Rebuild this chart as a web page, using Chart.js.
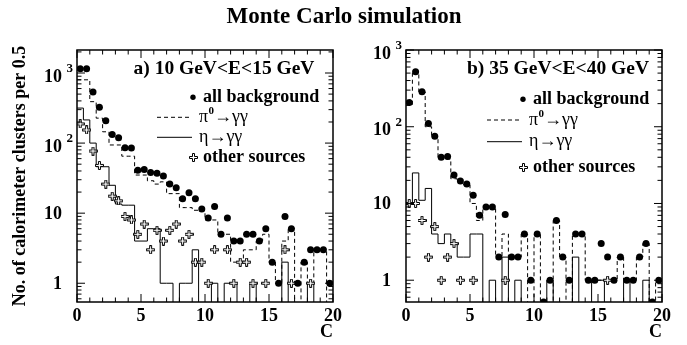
<!DOCTYPE html>
<html>
<head>
<meta charset="utf-8">
<title>Monte Carlo simulation</title>
<script src="https://cdn.jsdelivr.net/npm/chart.js@4.4.0/dist/chart.umd.min.js"></script>
<style>
  html, body { margin: 0; padding: 0; background: #fff; }
  #wrap { position: relative; width: 687px; height: 345px; }
  #wrap canvas { position: absolute; left: 0; top: 0; }
</style>
</head>
<body>
<div id="wrap">
  <canvas id="chartA" width="687" height="345"></canvas>
  <canvas id="chartB" width="687" height="345"></canvas>
</div>
<script>
// Bins: 40 bins of width 0.5 in C, from 0 to 20
const BIN_WIDTH = 0.5;

// a) 10 GeV<E<15 GeV
const allBgA = [1150, 1150, 537, 325, 209, 133, 119, 86, 85, 41,
                42, 38, 37, 34, 26, 23, 16, 19.5, 16, 11.5,
                8.5, 12.4, 5, 8.5, 4, 4, 5, 5, 4, 6,
                2, 1, 9, 6, 1, 2, 3, 3, 3, 1];
const pi0A = [800, 800, 390, 227, 145, 94, 94, 65, 65, 35,
              35, 29, 26, 28, 19, 19, 12, 12, 11, 11,
              8, 8, 5, 5, 2, 2, 3, 3, 4, 5,
              2, 1, 4, 6, 0, 2, 1, 3, 3, 0];
const etaA = [316, 214, 100, 46, 46, 25, 13.5, 13, 13, 4,
              4, 6, 6, 1, 1, 0, 1, 1, 3, 0,
              0, 1, 0, 1, 1, 0, 0, 1, 0, 0,
              0, 0, 2, 0, 0, 0, 1, 0, 0, 0];
const otherA = [188, 154, 77, 48, 26, 17.5, 15, 9, 8, 5,
                7, 3, 5.7, 4, 5.7, 7, 4, 5, 2, 2,
                1, 3, null, 3, 1, 2, 2, 1, null, 1,
                null, null, 3, 1, null, null, 1, null, null, null];

// b) 35 GeV<E<40 GeV
const allBgB = [207, 520, 285, 110, 75, 40, 41, 23.5, 19.6, 17.9,
                12.8, 7, 9, 9, 2, 7.2, 2, 2, 4, 1,
                4, 0, 1, 6, 2, 1, 4, 4, 1, 1,
                3, 2, 1, 2, 1, 1, 2, 3, 0, 1];
const pi0B = [190, 520, 285, 100, 74, 38, 38, 21, 19, 17.5,
              10, 6, 9, 9, 2, 4, 2, 2, 4, 0,
              4, 0, 0, 6, 2, 0, 4, 4, 1, 1,
              1, 1, 1, 2, 1, 1, 2, 3, 0, 1];
const etaB = [10, 25, 11, 15.7, 4, 3, 4, 3, 2, 2,
              4, 4, 0, 1, 0, 2, 0, 1, 0, 0,
              0, 0, 1, 0, 0, 0, 2, 0, 0, 1,
              1, 0, 0, 0, 1, 0, 0, 1, 0, 0];
const otherB = [10, 10, 6, 2, 5, 1, 2, 3, 1, null,
                1, null, null, null, null, 1, null, null, null, null,
                null, null, null, null, null, null, null, null, null, null,
                null, 1, null, null, null, null, null, null, null, null];

// Axis ticks
const xTickValues = [0, 5, 10, 15, 20];
const xTickLabels = ['0', '5', '10', '15', '20'];
const yDecades = [1, 10, 100, 1000];
const yDecadeLabels = [['1', ''], ['10', ''], ['10', '2'], ['10', '3']];

const FONT = '"Liberation Serif", "Times New Roman", serif';

// Panel settings
const panels = [
    {
        canvasId: 'chartA',
        area: { left: 77, right: 333, top: 50, bottom: 302 },
        yMin: 0.54, yMax: 2130,
        allBg: allBgA, pi0: pi0A, eta: etaA, other: otherA,
        header: 'a) 10 GeV<E<15 GeV', headerX: 224, headerY: 69,
        rows: [97.3, 117.3, 137.3, 157.3],
        markX: 193, lineX: [157, 192], textX: 203, greekX: 199,
        main: true
    },
    {
        canvasId: 'chartB',
        area: { left: 406, right: 662, top: 50, bottom: 302 },
        yMin: 0.52, yMax: 1000,
        allBg: allBgB, pi0: pi0B, eta: etaB, other: otherB,
        header: 'b) 35 GeV<E<40 GeV', headerX: 558, headerY: 69,
        rows: [99.3, 120, 141.7, 167.3],
        markX: 523, lineX: [487, 522], textX: 533, greekX: 529,
        main: false
    }
];

// Open cross marker (ROOT style), 9x9 px, crisp 1px outline
function makeCrossMarker() {
    const c = document.createElement('canvas');
    c.width = 9;
    c.height = 9;
    const g = c.getContext('2d');
    const pts = [[3.5, 0.5], [5.5, 0.5], [5.5, 3.5], [8.5, 3.5], [8.5, 5.5], [5.5, 5.5],
                 [5.5, 8.5], [3.5, 8.5], [3.5, 5.5], [0.5, 5.5], [0.5, 3.5], [3.5, 3.5]];
    g.beginPath();
    pts.forEach(([px, py], i) => (i ? g.lineTo(px, py) : g.moveTo(px, py)));
    g.closePath();
    g.fillStyle = '#fff';
    g.fill();
    g.strokeStyle = '#000';
    g.lineWidth = 1;
    g.stroke();
    return c;
}
const crossMarker = makeCrossMarker();

// Histogram outline: one point per lower bin edge + closing edge
function histPoints(values) {
    const pts = values.map((v, i) => ({ x: i * BIN_WIDTH, y: v > 0 ? v : 0.05 }));
    pts.push({ x: values.length * BIN_WIDTH, y: pts[pts.length - 1].y });
    return pts;
}

// Markers at bin centres, zero drawn on the lower edge
function markerPoints(values, yMin) {
    return values.map((v, i) => ({
        x: (i + 0.5) * BIN_WIDTH,
        y: v === null ? null : (v > 0 ? v : yMin)
    }));
}

function line(ctx, x1, y1, x2, y2) {
    ctx.beginPath();
    ctx.moveTo(x1, y1);
    ctx.lineTo(x2, y2);
    ctx.stroke();
}

// Frame, ticks, labels, legend
function makeDecorPlugin(p) {
    return {
        id: 'panelDecor',
        afterDraw(chart) {
            const { ctx, chartArea: ca } = chart;
            const xs = chart.scales.x;
            const ys = chart.scales.y;
            ctx.save();
            ctx.strokeStyle = '#000';
            ctx.fillStyle = '#000';

            // Frame
            ctx.lineWidth = 1.5;
            ctx.strokeRect(ca.left, ca.top, ca.right - ca.left, ca.bottom - ca.top);

            // X ticks (bottom and top)
            ctx.lineWidth = 1;
            for (let c = 0; c <= 20; c++) {
                const px = xs.getPixelForValue(c);
                const len = c % 5 === 0 ? 8 : 4.5;
                line(ctx, px, ca.bottom, px, ca.bottom - len);
                line(ctx, px, ca.top, px, ca.top + len);
            }

            // Y ticks (left and right)
            for (let e = -1; e <= 3; e++) {
                const d = Math.pow(10, e);
                for (let k = 1; k <= 9; k++) {
                    const v = k * d;
                    if (v < p.yMin || v > p.yMax * 1.0001) continue;
                    const py = ys.getPixelForValue(v);
                    const len = k === 1 ? 8 : 4.5;
                    line(ctx, ca.left, py, ca.left + len, py);
                    line(ctx, ca.right, py, ca.right - len, py);
                }
            }

            // X tick labels
            ctx.font = 'bold 18px ' + FONT;
            ctx.textAlign = 'center';
            ctx.textBaseline = 'middle';
            xTickValues.forEach((v, i) => {
                ctx.fillText(xTickLabels[i], xs.getPixelForValue(v), 316);
            });
            ctx.textAlign = 'right';
            ctx.fillText('C', ca.right, 332);

            // Y tick labels
            yDecades.forEach((v, i) => {
                const py = ys.getPixelForValue(v);
                const [base, sup] = yDecadeLabels[i];
                ctx.font = 'bold 18px ' + FONT;
                ctx.textAlign = 'right';
                if (sup) {
                    ctx.fillText(base, ca.left - 15, py + 4);
                    ctx.font = 'bold 13px ' + FONT;
                    ctx.textAlign = 'left';
                    ctx.fillText(sup, ca.left - 10.5, py - 4);
                } else {
                    ctx.fillText(base, ca.left - 15, py + 1);
                }
            });

            // Legend
            ctx.textBaseline = 'middle';
            ctx.textAlign = 'center';
            ctx.font = 'bold 19.5px ' + FONT;
            ctx.fillText(p.header, p.headerX, p.headerY);

            ctx.textAlign = 'left';
            const [r0, r1, r2, r3] = p.rows;
            // all background
            ctx.beginPath();
            ctx.arc(p.markX, r0, 2.7, 0, Math.PI * 2);
            ctx.fill();
            ctx.font = 'bold 18px ' + FONT;
            ctx.fillText('all background', p.textX, r0);
            // pi0
            ctx.setLineDash([4, 3]);
            line(ctx, p.lineX[0], r1, p.lineX[1], r1);
            ctx.setLineDash([]);
            ctx.font = '18px ' + FONT;
            let tx = p.greekX;
            ctx.fillText('π', tx, r1);
            tx += ctx.measureText('π').width;
            ctx.font = 'bold 11px ' + FONT;
            ctx.fillText('0', tx + 0.5, r1 - 6);
            tx += ctx.measureText('0').width + 0.5;
            ctx.font = '18px ' + FONT;
            ctx.fillText('→γγ', tx, r1);
            // eta
            line(ctx, p.lineX[0], r2, p.lineX[1], r2);
            ctx.fillText('η→γγ', p.greekX, r2);
            // other sources
            ctx.drawImage(crossMarker, Math.round(p.markX) - 4, Math.round(r3) - 4);
            ctx.font = 'bold 18px ' + FONT;
            ctx.fillText('other sources', p.textX, r3);

            // Shared title and y axis title
            if (p.main) {
                ctx.textAlign = 'center';
                ctx.font = 'bold 23px ' + FONT;
                ctx.fillText('Monte Carlo simulation', 344, 17);
                ctx.save();
                ctx.translate(20, 176);
                ctx.rotate(-Math.PI / 2);
                ctx.font = 'bold 18px ' + FONT;
                ctx.fillText('No. of calorimeter clusters per 0.5', 0, 0);
                ctx.restore();
            }
            ctx.restore();
        }
    };
}

// Grafikleri oluştur
panels.forEach(p => {
    const ctx = document.getElementById(p.canvasId).getContext('2d');
    new Chart(ctx, {
        type: 'line',
        data: {
            datasets: [
                {
                    label: 'all background',
                    data: markerPoints(p.allBg, p.yMin),
                    showLine: false,
                    pointStyle: 'circle',
                    pointRadius: 3.5,
                    pointBackgroundColor: '#000',
                    pointBorderColor: '#000',
                    pointBorderWidth: 0,
                    clip: 0
                },
                {
                    label: 'other sources',
                    data: markerPoints(p.other, p.yMin),
                    showLine: false,
                    pointStyle: crossMarker,
                    clip: 0
                },
                {
                    label: 'π0→γγ',
                    data: histPoints(p.pi0),
                    stepped: 'before',
                    borderColor: '#000',
                    borderWidth: 1,
                    borderDash: [4, 3],
                    pointRadius: 0,
                    fill: false,
                    clip: 0
                },
                {
                    label: 'η→γγ',
                    data: histPoints(p.eta),
                    stepped: 'before',
                    borderColor: '#000',
                    borderWidth: 1,
                    pointRadius: 0,
                    fill: false,
                    clip: 0
                }
            ]
        },
        options: {
            responsive: false,
            animation: false,
            events: [],
            layout: {
                padding: {
                    left: p.area.left,
                    right: 687 - p.area.right,
                    top: p.area.top,
                    bottom: 345 - p.area.bottom
                }
            },
            plugins: {
                legend: { display: false },
                title: { display: false },
                tooltip: { enabled: false }
            },
            scales: {
                x: { type: 'linear', min: 0, max: 20, display: false },
                y: { type: 'logarithmic', min: p.yMin, max: p.yMax, display: false }
            }
        },
        plugins: [makeDecorPlugin(p)]
    });
});
</script>
</body>
</html>
